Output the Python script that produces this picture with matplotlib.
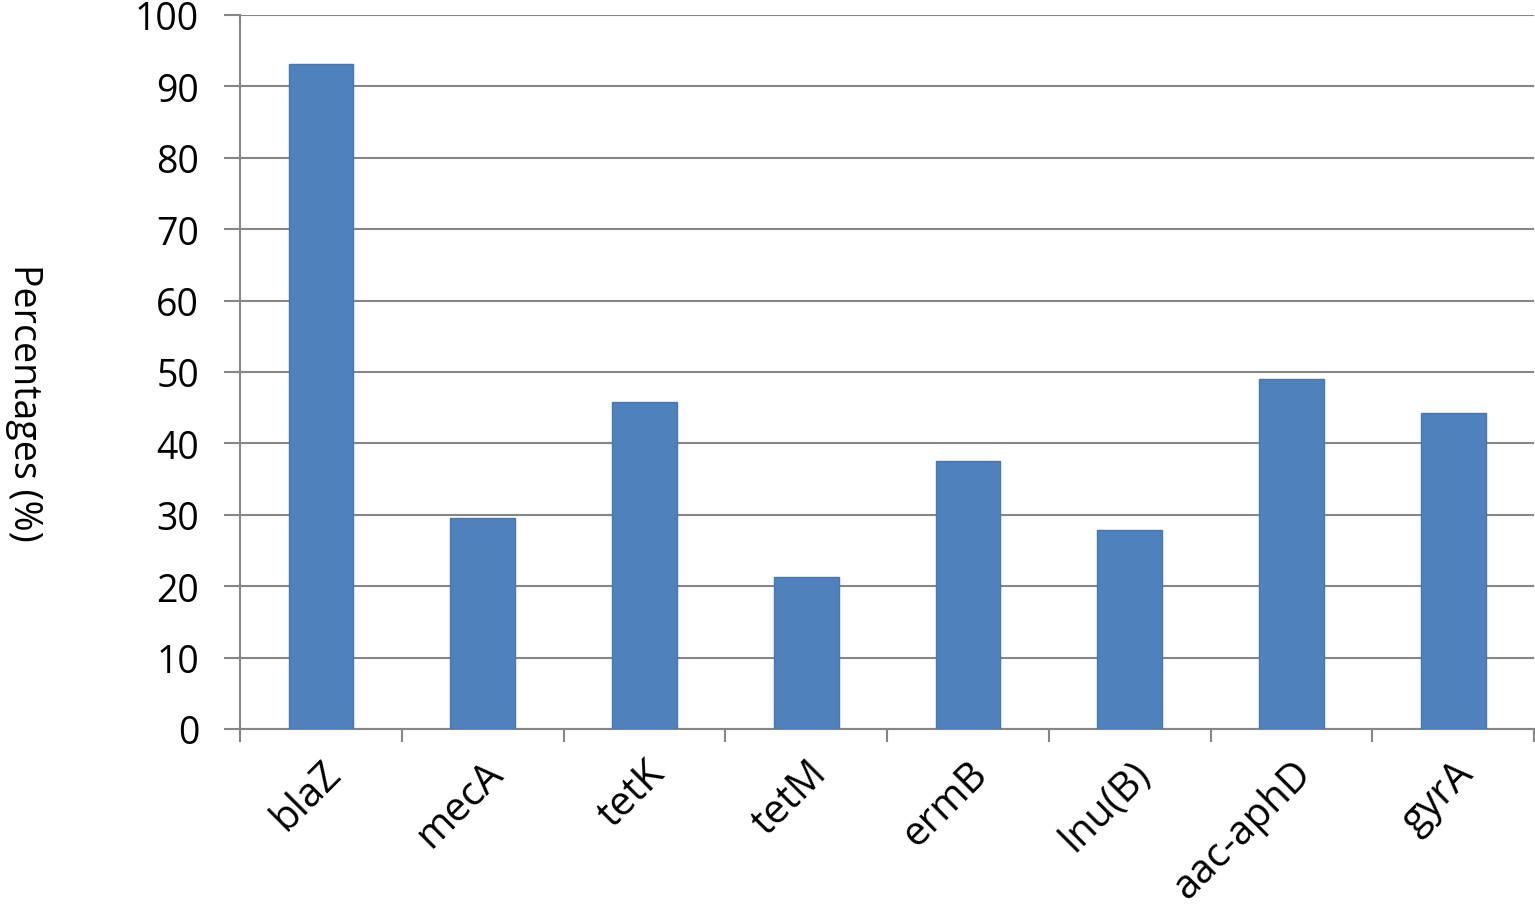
import matplotlib.pyplot as plt
import numpy as np

genes = ['blaZ', 'mecA', 'tetK', 'tetM', 'ermB', 'lnu(B)', 'aac-aphD', 'gyrA']
percent = [93.1, 29.6, 45.8, 21.3, 37.5, 27.9, 49.0, 44.3]
y_ticks = [0, 10, 20, 30, 40, 50, 60, 70, 80, 90, 100]

plt.rcParams['font.family'] = ['Open Sans', 'DejaVu Sans']

fig = plt.figure(figsize=(15.35, 9.12), dpi=100)
ax = fig.add_axes([0.1564, 0.1996, 0.8430, 0.7829])

x = np.arange(len(genes))
ax.bar(x, percent, width=0.4, color='#4F81BD', edgecolor='#4577B3', linewidth=1, zorder=3)

ax.set_xlim(-0.5, len(genes) - 0.5)
ax.set_ylim(0, 100)
ax.set_yticks(y_ticks)
ax.yaxis.grid(True, color='#868686', linewidth=1.5, zorder=0)

# category labels at centres, tick marks at boundaries
ax.set_xticks(x)
ax.set_xticklabels(genes, rotation=45, ha='right', va='top', rotation_mode='anchor', fontsize=29)
ax.set_xticks(np.arange(-0.5, len(genes)), minor=True)
ax.tick_params(axis='x', which='major', length=0, pad=17)
ax.tick_params(axis='x', which='minor', length=9.5, width=1.5, color='#868686')
ax.tick_params(axis='y', length=11.5, width=1.5, color='#868686', labelsize=27, pad=18)

for s in ['top', 'right']:
    ax.spines[s].set_visible(False)
for s in ['left', 'bottom']:
    ax.spines[s].set_color('#868686')
    ax.spines[s].set_linewidth(1.5)

fig.text(24 / 1535, 1 - 403 / 912, 'Percentages (%)', rotation=-90, fontsize=27,
         ha='center', va='center')

fig.savefig('out.png', dpi=100)
